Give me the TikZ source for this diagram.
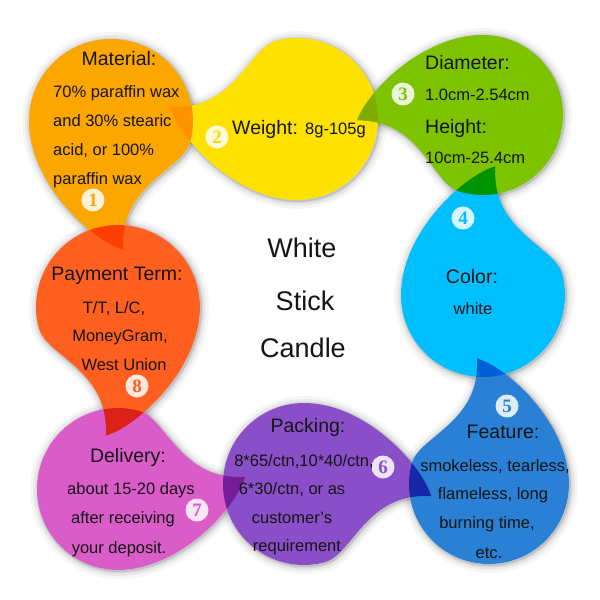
\documentclass[tikz,border=0pt]{standalone}
\usepackage{fontspec}
\setmainfont{Liberation Sans}
\newfontfamily\badgefont{Liberation Serif}
\definecolor{cOrange}{HTML}{FCA600}
\definecolor{cYellow}{HTML}{FFE100}
\definecolor{cGreen}{HTML}{7EC300}
\definecolor{cCyan}{HTML}{00BFFF}
\definecolor{cBlue}{HTML}{2A80D5}
\definecolor{cPurple}{HTML}{8A4FC8}
\definecolor{cMagenta}{HTML}{DA5CC8}
\definecolor{cRed}{HTML}{FF6020}
\definecolor{txt}{HTML}{151515}
\newcommand\dropP[1]{\path[#1] (0.15,-1.57)
  .. controls (-0.25,-1.45) and (-1,-0.75) .. (-1,0)
  .. controls (-1,0.5523) and (-0.5523,1) .. (0,1)
  .. controls (0.5523,1) and (1,0.5523) .. (1,0)
  .. controls (1,-0.0874) and (0.9885,-0.1744) .. (0.9659,-0.2588)
  .. controls (0.87,-0.6) and (0.1,-0.77) .. (0.15,-1.57) -- cycle;}
\tikzset{
 gA/.style={cm={82,0,0,82,(111,-121)}},
 gB/.style={cm={0,81,81,0,(297,-119)}},
 gC/.style={cm={-4.19,-79.89,79.89,-4.19,(483,-115)}},
 gD/.style={cm={82,0,0,-82,(483,-295)}},
 gE/.style={cm={-80,0,0,-80,(489,-484)}},
 gF/.style={cm={0,-81,-81,0,(304,-484)}},
 gG/.style={cm={0,81,-81,0,(118,-489)}},
 gH/.style={cm={-82,0,0,82,(118,-307)}},
 hd/.style={font=\fontsize{19.5}{20}\selectfont, inner sep=0pt, text=txt},
 bd/.style={font=\fontsize{16.5}{17}\selectfont, inner sep=0pt, text=txt},
 ct/.style={font=\fontsize{27}{28}\selectfont, inner sep=0pt, text=txt},
 badge/.style={circle, fill=white, fill opacity=0.85, text opacity=1, inner sep=0pt, minimum size=23pt, font=\badgefont\bfseries\fontsize{19}{19}\selectfont}
}
\begin{document}
\begin{tikzpicture}[x=1pt,y=1pt]
\useasboundingbox[fill=white] (0,0) rectangle (600,-600);
% soft shadows
\foreach \w/\o in {16/0.035,10/0.05,5/0.07,2/0.10} {
 \begin{scope}[xshift=1pt,yshift=-1pt]
 \dropP{gA,draw=black,draw opacity=\o,line width=\w pt}
 \dropP{gB,draw=black,draw opacity=\o,line width=\w pt}
 \dropP{gC,draw=black,draw opacity=\o,line width=\w pt}
 \dropP{gD,draw=black,draw opacity=\o,line width=\w pt}
 \dropP{gE,draw=black,draw opacity=\o,line width=\w pt}
 \dropP{gF,draw=black,draw opacity=\o,line width=\w pt}
 \dropP{gG,draw=black,draw opacity=\o,line width=\w pt}
 \dropP{gH,draw=black,draw opacity=\o,line width=\w pt}
 \end{scope}
}
% white bases
\dropP{gA,fill=white}\dropP{gB,fill=white}\dropP{gC,fill=white}\dropP{gD,fill=white}
\dropP{gE,fill=white}\dropP{gF,fill=white}\dropP{gG,fill=white}\dropP{gH,fill=white}
% coloured drops
\begin{scope}[blend mode=multiply]
\dropP{gA,fill=cOrange}
\dropP{gB,fill=cYellow}
\dropP{gC,fill=cGreen}
\dropP{gD,fill=cCyan}
\dropP{gE,fill=cBlue}
\dropP{gF,fill=cPurple}
\dropP{gG,fill=cMagenta}
\dropP{gH,fill=cRed}
\end{scope}
% badges
\node[badge,text=cOrange] (b1) at (93,-200) {1};
\node[badge,text=cYellow!90!orange] (b2) at (217,-137) {2};
\node[badge,text=cGreen] (b3) at (403,-94) {3};
\node[badge,text=cCyan] (b4) at (463,-218) {4};
\node[badge,text=cBlue] (b5) at (507,-406) {5};
\node[badge,text=cPurple] (b6) at (383,-467) {6};
\node[badge,text=cMagenta] (b7) at (197,-510) {7};
\node[badge,text=cRed] (b8) at (137,-386) {8};
% 1 Material
\node[hd,anchor=base] (m0) at (119,-65) {Material:};
\node[bd,anchor=base west] (m1) at (53,-97) {70\% paraffin wax};
\node[bd,anchor=base west] (m2) at (53,-126) {and 30\% stearic};
\node[bd,anchor=base west] (m3) at (53,-155) {acid, or 100\%};
\node[bd,anchor=base west] (m4) at (53,-184) {paraffin wax};
% 2 Weight
\node[hd,anchor=base west] (w0) at (232,-134) {Weight: {\fontsize{16.5}{17}\selectfont 8g-105g}};
% 3 Diameter
\node[hd,anchor=base west] (d0) at (425,-69) {Diameter:};
\node[bd,anchor=base west] (d1) at (425,-100) {1.0cm-2.54cm};
\node[hd,anchor=base west] (d2) at (425,-133) {Height:};
\node[bd,anchor=base west] (d3) at (425,-163) {10cm-25.4cm};
% 4 Color
\node[hd,anchor=base] (c0) at (472,-283) {Color:};
\node[bd,anchor=base] (c1) at (473,-314) {white};
% 5 Feature
\node[hd,anchor=base] (f0) at (503,-438) {Feature:};
\node[bd,anchor=base] (f1) at (495,-471) {smokeless, tearless,};
\node[bd,anchor=base] (f2) at (493,-499) {flameless, long};
\node[bd,anchor=base] (f3) at (487,-528) {burning time,};
\node[bd,anchor=base] (f4) at (489,-558) {etc.};
% 6 Packing
\node[hd,anchor=base] (p0) at (308,-432) {Packing:};
\node[bd,anchor=base] (p1) at (304,-466) {8*65/ctn,10*40/ctn,};
\node[bd,anchor=base] (p2) at (292,-494) {6*30/ctn, or as};
\node[bd,anchor=base] (p3) at (292,-523) {customer's};
\node[bd,anchor=base] (p4) at (297,-551) {requirement};
% 7 Delivery
\node[hd,anchor=base] (v0) at (128,-462) {Delivery:};
\node[bd,anchor=base] (v1) at (131,-494) {about 15-20 days};
\node[bd,anchor=base] (v2) at (123,-523) {after receiving};
\node[bd,anchor=base] (v3) at (119,-553) {your deposit.};
% 8 Payment
\node[hd,anchor=base] (y0) at (117,-280) {Payment Term:};
\node[bd,anchor=base] (y1) at (114,-313) {T/T, L/C,};
\node[bd,anchor=base] (y2) at (120,-341) {MoneyGram,};
\node[bd,anchor=base] (y3) at (124,-370) {West Union};
% centre
\node[ct,anchor=base] (k1) at (302,-257) {White};
\node[ct,anchor=base] (k2) at (305,-310) {Stick};
\node[ct,anchor=base] (k3) at (303,-357) {Candle};
\end{tikzpicture}
\end{document}
